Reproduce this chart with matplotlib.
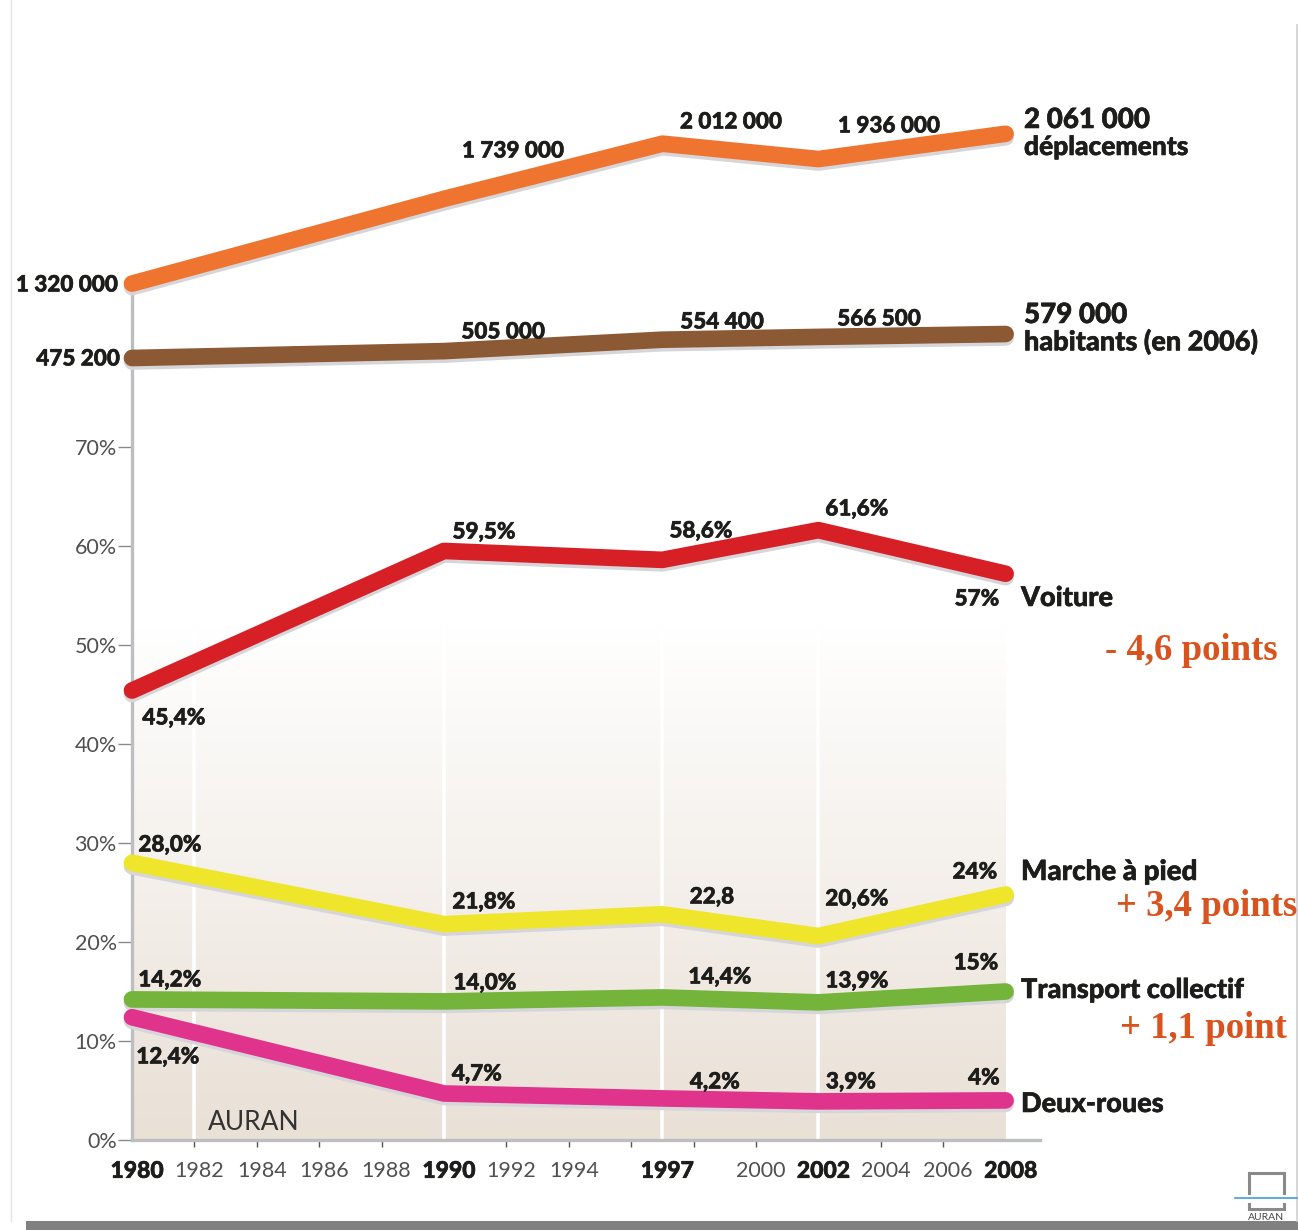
import numpy as np
import matplotlib
matplotlib.use("Agg")
import matplotlib.pyplot as plt
import matplotlib.patheffects as pe
from matplotlib.lines import Line2D
from matplotlib.patches import Rectangle
from matplotlib.transforms import ScaledTranslation

W, H = 1298, 1230

years = [1980, 1990, 1997, 2002, 2008]

deplacements = [1320000, 1739000, 2012000, 1936000, 2061000]
habitants = [475200, 505000, 554400, 566500, 579000]
voiture = [45.4, 59.5, 58.6, 61.6, 57.2]
marche = [28.0, 21.8, 22.8, 20.6, 24.8]
transport = [14.2, 14.0, 14.4, 13.9, 15.0]
deux_roues = [12.4, 4.7, 4.2, 3.9, 4.0]

deplacements_labels = ["1 320 000", "1 739 000", "2 012 000", "1 936 000"]
habitants_labels = ["475 200", "505 000", "554 400", "566 500"]
voiture_labels = ["45,4%", "59,5%", "58,6%", "61,6%", "57%"]
marche_labels = ["28,0%", "21,8%", "22,8", "20,6%", "24%"]
transport_labels = ["14,2%", "14,0%", "14,4%", "13,9%", "15%"]
deux_roues_labels = ["12,4%", "4,7%", "4,2%", "3,9%", "4%"]

y_ticks = [0, 10, 20, 30, 40, 50, 60, 70]
x_ticks = [1980, 1982, 1984, 1986, 1988, 1990, 1992, 1994, 1997, 2000, 2002, 2004, 2006, 2008]
x_minor_ticks = [1996, 1998]
bold_years = [1980, 1990, 1997, 2002, 2008]

BOLD = "Lato"
LIGHT = "Lato"
INK = "#1d1d1b"
AXIS = "#bcbec0"
TICK_TEXT = "#505050"


def put(px, py, s, ha="center", size=16.2, color=INK, weight="black", family=BOLD, stroke=0.4):
    # labels are placed in picture pixels, the chart itself lives on the axes scales
    t = fig.text(px / W, 1 - (py + 1) / H, s, ha=ha, va="center", fontsize=size,
                 color=color, fontweight=weight, family=family)
    if stroke:
        t.set_path_effects([pe.withStroke(linewidth=stroke, foreground=color)])
    return t


fig = plt.figure(figsize=(W / 100, H / 100), dpi=100)
ax = fig.add_axes([132 / W, 1 - 1140 / H, (1040 - 132) / W, (1140 - 285) / H])
ax.patch.set_alpha(0)

# fond beige en degrade
grad = np.linspace(0, 1, 256).reshape(-1, 1, 1)
beige = np.array([233, 224, 214]) / 255
rgb = 1 - (1 - beige) * grad
ax.imshow(rgb, extent=(1980, 2008, 0, 52), aspect="auto", zorder=0, origin="upper")
ax.set_xlim(1980, 1980 + (1040 - 132) / 31.2)
ax.set_ylim(0, (1140 - 285) / 9.9)
for yr in [1982, 1990, 1997, 2002]:
    ax.axvline(yr, 0, 52 / ax.get_ylim()[1], color="white", lw=2.6, zorder=1)

for side in ["top", "right"]:
    ax.spines[side].set_visible(False)
for side in ["left", "bottom"]:
    ax.spines[side].set_color(AXIS)
    ax.spines[side].set_linewidth(2.4)

ax.set_yticks(y_ticks)
ax.set_yticklabels([f"{v}%" for v in y_ticks], fontsize=15.5, color=TICK_TEXT, family=LIGHT)
ax.tick_params(axis="y", length=10, width=1, color="#8a8a8a", pad=1)
ax.set_xticks(x_ticks)
ax.set_xticklabels([str(v) for v in x_ticks], fontsize=15.5, color=TICK_TEXT, family=LIGHT)
ax.set_xticks(x_minor_ticks, minor=True)
ax.tick_params(axis="x", which="both", length=5, width=1, color="#555555", pad=10)
shift = ScaledTranslation(5 / 100, 0, fig.dpi_scale_trans)
for yr, tick in zip(x_ticks, ax.xaxis.get_major_ticks()):
    tick.label1.set_transform(tick.label1.get_transform() + shift)
    if yr in bold_years:
        tick.label1.set_fontweight("black")
        tick.label1.set_color(INK)
        tick.label1.set_fontsize(16.5)
        tick.label1.set_path_effects([pe.withStroke(linewidth=0.4, foreground=INK)])
        tick.tick1line.set_visible(False)

# echelles des deux courbes du haut, calees sur la position des traits
top_ax = fig.add_axes(ax.get_position(), sharex=ax)
top_ax.axis("off")
top_ax.set_ylim(1813600 + (183.8 - 1140) / 0.2022 * 1000, 1813600 + (183.8 - 285) / 0.2022 * 1000)
mid_ax = fig.add_axes(ax.get_position(), sharex=ax)
mid_ax.axis("off")
mid_ax.set_ylim(475200 + (358 - 1140) / 0.231 * 1000, 475200 + (358 - 285) / 0.231 * 1000)
ax.set_zorder(1)
mid_ax.set_zorder(2)
top_ax.set_zorder(3)


def draw(axes, values, color):
    axes.plot(years, values, color=color, lw=12, solid_capstyle="round", solid_joinstyle="round",
              clip_on=False, zorder=5,
              path_effects=[pe.SimpleLineShadow(offset=(0, -2.5), shadow_color="#d6d6da", alpha=1), pe.Normal()])


draw(top_ax, deplacements, "#ee7430")
draw(mid_ax, habitants, "#8b5a35")
draw(ax, voiture, "#d71f26")
draw(ax, marche, "#efe52a")
draw(ax, transport, "#74b43a")
draw(ax, deux_roues, "#e0348c")

# etiquettes
put(118, 284, deplacements_labels[0], ha="right")
for px, py, s in zip([513, 731, 889], [150, 121, 125], deplacements_labels[1:]):
    put(px, py, s)
put(1024, 119, f"{deplacements[-1]:,}".replace(",", " "), ha="left", size=20)
put(1024, 146, "déplacements", ha="left", size=19)

put(120, 358, habitants_labels[0], ha="right")
for px, py, s in zip([503, 722, 879], [331, 321, 318], habitants_labels[1:]):
    put(px, py, s)
put(1024, 314, f"{habitants[-1]:,}".replace(",", " "), ha="left", size=20)
put(1024, 341, "habitants (en 2006)", ha="left", size=19.5)

for px, py, s in zip([174, 484, 701, 857, 977], [717, 531, 530, 508, 598], voiture_labels):
    put(px, py, s)
for px, py, s in zip([170, 484, 712, 857, 975], [844, 901, 896, 898, 871], marche_labels):
    put(px, py, s)
for px, py, s in zip([170, 485, 720, 857, 976], [979, 982, 976, 980, 962], transport_labels):
    put(px, py, s)
for px, py, s in zip([168, 477, 715, 851, 984], [1056, 1073, 1081, 1081, 1077], deux_roues_labels):
    put(px, py, s)

put(1021, 597, "Voiture", ha="left", size=19.5)
put(1021, 871, "Marche à pied", ha="left", size=20)
put(1021, 989, "Transport collectif", ha="left", size=19.5)
put(1021, 1103, "Deux-roues", ha="left", size=19.5)

RED = "#d9531e"
put(1191, 649, "- 4,6 points", size=26.5, color=RED, weight="bold", family="Liberation Serif", stroke=0)
put(1207, 905, "+ 3,4 points", size=26.5, color=RED, weight="bold", family="Liberation Serif", stroke=0)
put(1203, 1027, "+ 1,1 point", size=26.5, color=RED, weight="bold", family="Liberation Serif", stroke=0)
put(254, 1121, "AURAN", size=19, color="#333333", weight="normal", family=LIGHT, stroke=0)


# bords de page et logo
def page_line(x0, y0, x1, y1, color, lw):
    fig.add_artist(Line2D([x0 / W, x1 / W], [1 - y0 / H, 1 - y1 / H], color=color, lw=lw, transform=fig.transFigure))


page_line(11, 0, 11, 1221, "#e4e4e4", 1)
page_line(1297, 25, 1297, 1221, "#cfcfcf", 1.2)
fig.add_artist(Rectangle((26 / W, 0), (W - 26) / W, 9 / H, color="#808080", transform=fig.transFigure, lw=0))
fig.add_artist(Rectangle((1249 / W, 1 - 1209 / H), 35 / W, 36 / H, fill=False, ec="#8a8a8a", lw=2.2, transform=fig.transFigure))
fig.add_artist(Rectangle((1240 / W, 1 - 1203 / H), 52 / W, 8 / H, color="white", lw=0, transform=fig.transFigure))
page_line(1235, 1198, 1297, 1198, "#3f9fd8", 1.2)
put(1266, 1216, "AURAN", size=7.5, color="#444444", weight="normal", family=LIGHT, stroke=0)

fig.savefig("out.png", dpi=100)
